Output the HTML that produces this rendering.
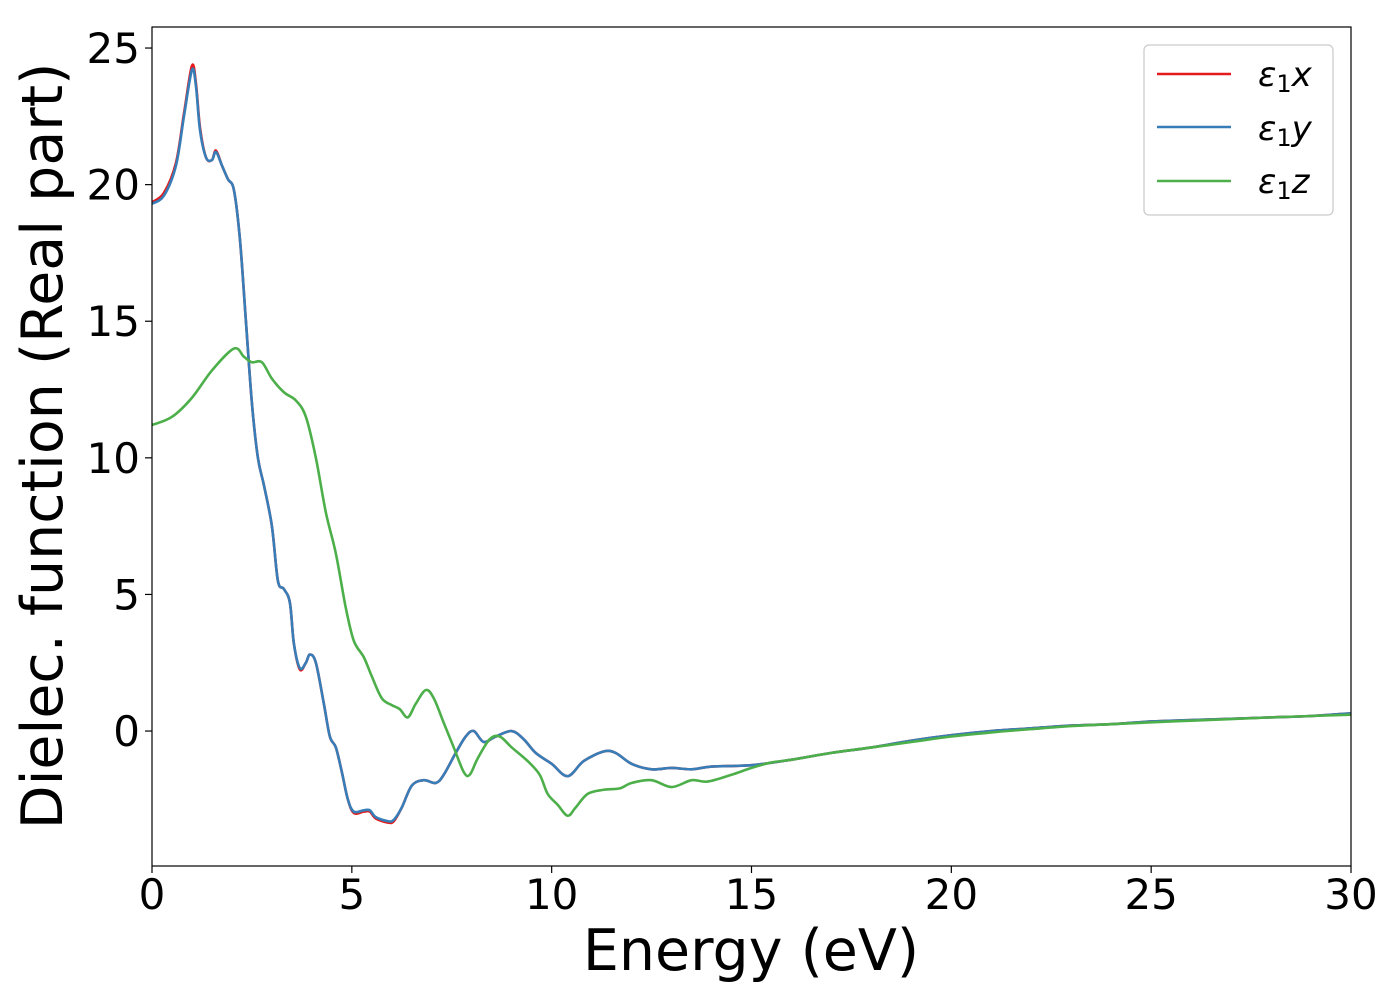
<!DOCTYPE html>
<html><head><meta charset="utf-8"><style>
body{margin:0;background:#fff}
svg text{font-family:"DejaVu Sans","Liberation Sans",sans-serif;fill:#000}
</style></head><body>
<svg id="chart" width="1400" height="1000" xmlns="http://www.w3.org/2000/svg">
<rect x="0" y="0" width="1400" height="1000" fill="#fff"/>
<g id="plot"></g>
<g id="axes"></g>
<text x="751" y="970" font-size="57" text-anchor="middle">Energy (eV)</text>
<text transform="translate(62,446) rotate(-90)" font-size="57" text-anchor="middle">Dielec. function (Real part)</text>
<g>
<rect x="1144" y="45" width="189" height="170" rx="5" fill="#fff" fill-opacity="0.8" stroke="#ccc" stroke-width="1.3"/>
<line x1="1157" y1="74" x2="1231" y2="74" stroke="#e41a1c" stroke-width="2.5"/>
<line x1="1157" y1="127" x2="1231" y2="127" stroke="#377eb8" stroke-width="2.5"/>
<line x1="1157" y1="181" x2="1231" y2="181" stroke="#4daf4a" stroke-width="2.5"/>
<text x="1258" y="86" font-size="34" font-style="italic">ε<tspan font-style="normal" font-size="24" dy="6">1</tspan><tspan dy="-6">x</tspan></text>
<text x="1258" y="140" font-size="34" font-style="italic">ε<tspan font-style="normal" font-size="24" dy="6">1</tspan><tspan dy="-6">y</tspan></text>
<text x="1258" y="193" font-size="34" font-style="italic">ε<tspan font-style="normal" font-size="24" dy="6">1</tspan><tspan dy="-6">z</tspan></text>
</g>
</svg>
<script>
const xyEnergy=[0,0.3,0.6,0.8,1.0,1.1,1.2,1.35,1.5,1.6,1.75,1.9,2.05,2.2,2.35,2.5,2.65,2.8,3.0,3.15,3.3,3.45,3.55,3.7,3.85,3.95,4.1,4.3,4.45,4.6,4.75,4.9,5.05,5.3,5.45,5.6,5.9,6.05,6.25,6.5,6.8,7.1,7.3,7.6,7.85,8.05,8.3,8.6,9.0,9.3,9.6,10.0,10.4,10.8,11.3,11.6,12.0,12.5,13.0,13.5,14,15,16,17,18,19,20,21,22,23,24,25,26,27,28,29,30];
const xValues=[19.35,19.7,20.8,22.6,24.35,23.7,22.1,21.0,20.9,21.25,20.7,20.2,19.8,18.0,15.0,12.0,10.0,9.0,7.5,5.5,5.2,4.7,3.2,2.25,2.5,2.8,2.5,1.0,-0.2,-0.6,-1.5,-2.5,-3.0,-2.95,-2.95,-3.2,-3.35,-3.3,-2.8,-2.0,-1.8,-1.9,-1.6,-0.8,-0.2,0.0,-0.4,-0.2,0.0,-0.3,-0.8,-1.2,-1.65,-1.1,-0.75,-0.8,-1.2,-1.4,-1.35,-1.4,-1.3,-1.25,-1.05,-0.8,-0.6,-0.35,-0.15,0,0.1,0.2,0.25,0.35,0.4,0.45,0.5,0.55,0.65];
const yValues=[19.3,19.6,20.7,22.5,24.2,23.6,22.0,21.0,20.9,21.2,20.7,20.2,19.8,18.0,15.0,12.0,10.0,9.0,7.5,5.5,5.2,4.7,3.2,2.3,2.5,2.8,2.5,1.0,-0.2,-0.6,-1.5,-2.5,-2.95,-2.9,-2.9,-3.15,-3.3,-3.25,-2.8,-2.0,-1.8,-1.9,-1.6,-0.8,-0.2,0.0,-0.4,-0.2,0.0,-0.3,-0.8,-1.2,-1.65,-1.1,-0.75,-0.8,-1.2,-1.4,-1.35,-1.4,-1.3,-1.25,-1.05,-0.8,-0.6,-0.35,-0.15,0,0.1,0.2,0.25,0.35,0.4,0.45,0.5,0.55,0.65];
const zEnergy=[0,0.5,1.0,1.5,2.05,2.3,2.5,2.75,3.0,3.3,3.6,3.85,4.1,4.35,4.6,4.85,5.05,5.3,5.5,5.75,6.0,6.2,6.4,6.6,6.85,7.05,7.3,7.55,7.8,7.95,8.15,8.45,8.7,9.0,9.4,9.7,9.9,10.15,10.4,10.6,10.9,11.3,11.7,12.0,12.5,13.0,13.5,13.9,14.5,15,15.5,16,17,18,19,20,21,22,23,24,25,26,27,28,29,30];
const zValues=[11.2,11.5,12.2,13.2,14.0,13.7,13.5,13.5,12.9,12.4,12.1,11.5,10.0,8.0,6.5,4.5,3.3,2.7,2.0,1.2,0.95,0.8,0.5,1.0,1.5,1.2,0.3,-0.6,-1.5,-1.6,-1.0,-0.3,-0.2,-0.6,-1.1,-1.6,-2.3,-2.7,-3.1,-2.8,-2.3,-2.15,-2.1,-1.9,-1.8,-2.05,-1.8,-1.85,-1.6,-1.35,-1.15,-1.05,-0.8,-0.6,-0.4,-0.2,-0.05,0.07,0.18,0.25,0.32,0.38,0.44,0.5,0.55,0.6];
const xTicks=[0,5,10,15,20,25,30];
const yTicks=[0,5,10,15,20,25];

const L=152,R=1351,T=27,B=866,xmin=0,xmax=30,ymin=-4.94,ymax=25.77;
const sx=v=>L+(v-xmin)/(xmax-xmin)*(R-L);
const sy=v=>B-(v-ymin)/(ymax-ymin)*(B-T);
const NS="http://www.w3.org/2000/svg";
const plot=document.getElementById('plot'),axes=document.getElementById('axes');
function pathFor(xs,ys){
  const p=xs.map((x,i)=>[sx(x),sy(ys[i])]);
  let d="M"+p[0][0].toFixed(2)+","+p[0][1].toFixed(2);
  for(let i=0;i<p.length-1;i++){
    const p0=p[i-1]||p[i],p1=p[i],p2=p[i+1],p3=p[i+2]||p2;
    const c1=[p1[0]+(p2[0]-p0[0])/6,p1[1]+(p2[1]-p0[1])/6];
    const c2=[p2[0]-(p3[0]-p1[0])/6,p2[1]-(p3[1]-p1[1])/6];
    d+="C"+c1[0].toFixed(2)+","+c1[1].toFixed(2)+" "+c2[0].toFixed(2)+","+c2[1].toFixed(2)+" "+p2[0].toFixed(2)+","+p2[1].toFixed(2);
  }
  return d;
}
const cp=document.createElementNS(NS,'clipPath');cp.id='clip';
const cr=document.createElementNS(NS,'rect');cr.setAttribute('x',L);cr.setAttribute('y',T);cr.setAttribute('width',R-L);cr.setAttribute('height',B-T);
cp.appendChild(cr);plot.appendChild(cp);
function addLine(xs,ys,color,name){
  const el=document.createElementNS(NS,'path');
  el.setAttribute('d',pathFor(xs,ys));el.setAttribute('fill','none');el.setAttribute('stroke',color);
  el.setAttribute('stroke-width','2.6');el.setAttribute('stroke-linejoin','round');el.setAttribute('clip-path','url(#clip)');
  
  
  plot.appendChild(el);
}
addLine(xyEnergy,xValues,'#e41a1c','line-eps1-x');
addLine(xyEnergy,yValues,'#377eb8','line-eps1-y');
addLine(zEnergy,zValues,'#4daf4a','line-eps1-z');

const frame=document.createElementNS(NS,'rect');
frame.setAttribute('x',L);frame.setAttribute('y',T);frame.setAttribute('width',R-L);frame.setAttribute('height',B-T);
frame.setAttribute('fill','none');frame.setAttribute('stroke','#000');frame.setAttribute('stroke-width','1.2');


axes.appendChild(frame);
xTicks.forEach(t=>{
  const ln=document.createElementNS(NS,'line');
  ln.setAttribute('x1',sx(t));ln.setAttribute('x2',sx(t));ln.setAttribute('y1',B);ln.setAttribute('y2',B+7);ln.setAttribute('stroke','#000');ln.setAttribute('stroke-width','1.2');
  
  
  axes.appendChild(ln);
  const tx=document.createElementNS(NS,'text');
  tx.setAttribute('x',sx(t));tx.setAttribute('y',B+43);tx.setAttribute('font-size','42');tx.setAttribute('text-anchor','middle');tx.textContent=t;
  
  
  axes.appendChild(tx);
});
yTicks.forEach(t=>{
  const ln=document.createElementNS(NS,'line');
  ln.setAttribute('x1',L-7);ln.setAttribute('x2',L);ln.setAttribute('y1',sy(t));ln.setAttribute('y2',sy(t));ln.setAttribute('stroke','#000');ln.setAttribute('stroke-width','1.2');
  
  
  axes.appendChild(ln);
  const tx=document.createElementNS(NS,'text');
  tx.setAttribute('x',L-12);tx.setAttribute('y',sy(t)+15);tx.setAttribute('font-size','42');tx.setAttribute('text-anchor','end');tx.textContent=t;
  
  
  axes.appendChild(tx);
});
</script>
</body></html>
